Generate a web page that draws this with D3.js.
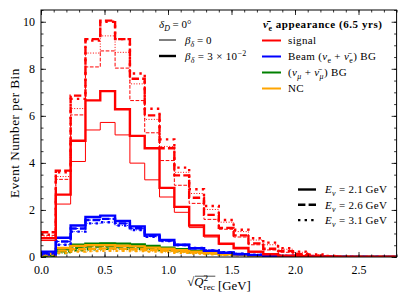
<!DOCTYPE html>
<html><head><meta charset="utf-8">
<script src="https://cdn.jsdelivr.net/npm/d3@7"></script>
<style>body{margin:0;background:#fff}svg{display:block}</style>
</head><body>
<svg id="c" width="407" height="305"></svg>
<script>
// ---------------- data ----------------
const xMax = 2.8;
const nBins = 24;                       // bins of width xMax/nBins in sqrt(Q2_rec)
const xTicks = [0.0, 0.5, 1.0, 1.5, 2.0, 2.5];
const yTicks = [0, 2, 4, 6, 8, 10];

// signal, E=2.1 / 2.6 / 3.1 GeV, beta=0 (thin) and beta=3e-2 (thick)
const sig21_b0 = [0.70,2.25,4.06,5.40,5.72,5.19,3.99,3.28,2.55,1.90,1.25,0.85,0.53,0.35,0.20,0.11,0.05,0.02,0.01,0,0,0,0,0];
const sig21_b3 = [0.80,2.65,4.94,6.66,7.05,6.28,5.15,4.62,2.94,2.13,1.34,0.91,0.57,0.38,0.23,0.12,0.06,0.03,0.01,0,0,0,0,0];
const sig26_b0 = [0.92,3.30,6.04,8.08,8.76,8.03,6.65,5.28,4.10,3.05,2.28,1.60,1.18,0.85,0.52,0.30,0.20,0.10,0.04,0.01,0,0,0,0];
const sig26_b3 = [1.05,3.67,6.86,9.26,10.05,9.26,7.58,6.02,4.62,3.47,2.52,1.79,1.24,0.92,0.58,0.35,0.25,0.12,0.05,0.02,0,0,0,0];
const sig31_b0 = [0.85,3.42,6.31,8.67,9.40,8.70,7.36,5.85,4.70,3.60,2.70,2.02,1.48,1.08,0.72,0.52,0.33,0.20,0.09,0.03,0.01,0,0,0];
const sig31_b3 = [0.95,3.60,6.72,9.20,10.00,9.26,7.80,6.30,5.00,3.80,2.88,2.17,1.57,1.16,0.80,0.61,0.37,0.23,0.11,0.04,0.01,0,0,0];

// beam (nu_e + nubar_e) background
const beam21 = [0.23,0.82,1.34,1.70,1.76,1.53,1.30,0.95,0.73,0.52,0.37,0.26,0.18,0.12,0.08,0.05,0.03,0.02,0.01,0,0,0,0,0];
const beam26 = [0.16,0.66,1.21,1.57,1.62,1.43,1.22,0.90,0.70,0.51,0.37,0.27,0.19,0.13,0.09,0.06,0.04,0.02,0.01,0,0,0,0,0];
const beam31 = [0.10,0.52,1.08,1.43,1.48,1.34,1.15,0.86,0.68,0.51,0.38,0.28,0.20,0.14,0.10,0.07,0.05,0.03,0.02,0.01,0,0,0,0];

// (nu_mu + nubar_mu) background
const numu21 = [0.06,0.33,0.52,0.57,0.58,0.57,0.53,0.47,0.40,0.33,0.26,0.20,0.15,0.11,0.08,0.05,0.03,0.02,0.01,0,0,0,0,0];
const numu26 = [0.04,0.24,0.39,0.44,0.45,0.44,0.42,0.38,0.33,0.28,0.23,0.18,0.14,0.10,0.07,0.05,0.03,0.02,0.01,0,0,0,0,0];
const numu31 = [0.03,0.17,0.29,0.33,0.35,0.35,0.34,0.31,0.28,0.24,0.20,0.16,0.12,0.09,0.07,0.05,0.03,0.02,0.01,0,0,0,0,0];

// NC background
const nc21 = [0.15,0.38,0.47,0.50,0.50,0.48,0.45,0.40,0.35,0.29,0.23,0.18,0.13,0.10,0.07,0.05,0.03,0.02,0.01,0,0,0,0,0];
const nc26 = [0.10,0.27,0.33,0.35,0.36,0.35,0.33,0.30,0.27,0.23,0.19,0.15,0.11,0.08,0.06,0.04,0.03,0.02,0.01,0,0,0,0,0];
const nc31 = [0.06,0.18,0.23,0.25,0.26,0.26,0.25,0.23,0.21,0.18,0.15,0.12,0.09,0.07,0.05,0.04,0.03,0.02,0.01,0,0,0,0,0];

// ---------------- chart ----------------
const FONT = "'Liberation Serif','Times New Roman',serif";
const W = 407, H = 305;
const m = {l: 41, r: 10.4, t: 10, b: 48};
const svg = d3.select('#c');
const x = d3.scaleLinear().domain([0, xMax]).range([m.l, W - m.r]);
const y = d3.scaleLinear().domain([0, 10.5]).range([H - m.b, m.t]);
const edges = d3.range(nBins + 1).map(i => i * xMax / nBins);

const C = {red: '#ff0000', blue: '#0000ff', green: '#008000', orange: '#ffa500'};
const THICK = 2.4, THIN = 1.0;
function dash(style, lw) {
  const k = lw > 1.5 ? 2 : lw;
  if (style === 'dashed') return `${3.7*k},${1.6*k}`;
  if (style === 'dotted') return lw > 1.5 ? `${lw},${3.3*k - lw}` : `${1*k},${1.65*k}`;
  return null;
}
const step = d3.line().x(d => x(d[0])).y(d => y(d[1])).curve(d3.curveStepAfter);

svg.append('defs').append('clipPath').attr('id', 'clip').append('rect')
  .attr('x', m.l).attr('y', m.t).attr('width', W - m.l - m.r).attr('height', H - m.t - m.b);

const plotG = svg.append('g').attr('clip-path', 'url(#clip)');
function histIn(vals, color, style, lw) {
  const pts = vals.map((v, i) => [edges[i], v]);
  pts.push([edges[vals.length], vals[vals.length - 1]]);
  plotG.append('path').attr('d', step(pts)).attr('fill', 'none')
    .attr('stroke', color).attr('stroke-width', lw)
    .attr('stroke-dasharray', dash(style, lw));
}
const sets = [
  [numu21, numu21, numu26, numu26, numu31, numu31, C.green],
  [nc21, nc21, nc26, nc26, nc31, nc31, C.orange],
  [beam21, beam21, beam26, beam26, beam31, beam31, C.blue],
  [sig21_b0, sig21_b3, sig26_b0, sig26_b3, sig31_b0, sig31_b3, C.red],
];
sets.forEach(s => {
  const col = s[6];
  histIn(s[1], col, 'solid', THICK);  histIn(s[0], col, 'solid', THIN);
  histIn(s[3], col, 'dashed', THICK); histIn(s[2], col, 'dashed', THIN);
  histIn(s[5], col, 'dotted', THICK); histIn(s[4], col, 'dotted', THIN);
});

// axes
const TS = 12;
const minorX = d3.range(0, xMax + 1e-9, 0.1);
const minorY = d3.range(0, 10.5 + 1e-9, 0.5);
function styleAxis(g) { g.select('.domain').remove(); g.selectAll('line').attr('stroke', '#000').attr('stroke-width', 0.8); g.selectAll('text').attr('font-family', FONT).attr('font-size', TS).attr('fill', '#000'); }
const yb = H - m.b, xr = W - m.r;
svg.append('g').attr('transform', `translate(0,${yb})`).call(d3.axisBottom(x).tickValues(minorX).tickSize(-2.5).tickFormat('')).call(styleAxis);
svg.append('g').attr('transform', `translate(0,${m.t})`).call(d3.axisTop(x).tickValues(minorX).tickSize(-2.5).tickFormat('')).call(styleAxis);
svg.append('g').attr('transform', `translate(${m.l},0)`).call(d3.axisLeft(y).tickValues(minorY).tickSize(-2.5).tickFormat('')).call(styleAxis);
svg.append('g').attr('transform', `translate(${xr},0)`).call(d3.axisRight(y).tickValues(minorY).tickSize(-2.5).tickFormat('')).call(styleAxis);
svg.append('g').attr('transform', `translate(0,${yb})`).call(d3.axisBottom(x).tickValues(xTicks).tickSize(-5).tickPadding(8.5).tickFormat(d3.format('.1f'))).call(styleAxis);
svg.append('g').attr('transform', `translate(0,${m.t})`).call(d3.axisTop(x).tickValues(xTicks).tickSize(-5).tickFormat('')).call(styleAxis);
svg.append('g').attr('transform', `translate(${m.l},0)`).call(d3.axisLeft(y).tickValues(yTicks).tickSize(-5).tickPadding(6).tickFormat(d3.format('d'))).call(styleAxis);
svg.append('g').attr('transform', `translate(${xr},0)`).call(d3.axisRight(y).tickValues(yTicks).tickSize(-5).tickFormat('')).call(styleAxis);
svg.append('rect').attr('x', m.l).attr('y', m.t).attr('width', xr - m.l).attr('height', yb - m.t)
  .attr('fill', 'none').attr('stroke', '#000').attr('stroke-width', 1);

// rich text helper
function rich(sel, px, py, parts, size, opts = {}) {
  const t = sel.append('text').attr('x', px).attr('y', py).attr('font-family', FONT)
    .attr('font-size', size).attr('fill', '#000')
    .attr('text-anchor', opts.anchor || 'start').attr('font-weight', opts.weight || 'normal');
  if (opts.ls) t.attr('letter-spacing', opts.ls);
  if (opts.rotate) t.attr('transform', `rotate(${opts.rotate},${px},${py})`);
  let shift = 0;
  parts.forEach(p => {
    const [str, kind] = typeof p === 'string' ? [p, ''] : p;
    let target = 0, fs = size, fst = 'normal';
    if (kind.includes('sub')) { target = size * 0.28; fs = size * 0.72; }
    if (kind.includes('sup')) { target = -size * 0.4; fs = size * 0.72; }
    if (kind.startsWith('i')) fst = 'italic';
    const ts = t.append('tspan').attr('dy', target - shift).attr('font-size', fs).attr('font-style', fst).text(str);
    if (kind.includes('back')) ts.attr('dx', -size * 0.36);
    shift = target;
  });
  return t;
}

// axis labels
rich(svg, 19, 133, ['Event Number per Bin'], 13.2, {anchor: 'middle', rotate: -90, ls: 0.5});
{
  const g = svg.append('g');
  const t = rich(g, 219, 286, [['\u221A', ''], ['Q', 'i'], ['2', 'sup'], ['rec', 'subback'], ['', ''], '  [GeV]'], 12.8, {anchor: 'middle'});
  const tspans = t.selectAll('tspan').nodes();
  const b0 = tspans[0].getBBox(), b3 = tspans[3].getBBox();
  g.append('line').attr('x1', b0.x + b0.width - 0.3).attr('x2', b3.x + b3.width + 0.5)
    .attr('y1', b0.y + 1.2).attr('y2', b0.y + 1.2).attr('stroke', '#000').attr('stroke-width', 0.7);
}

// legend 1: beta
const LS = 11;
rich(svg, 159, 28, [['\u03B4', 'i'], ['D', 'isub'], ' = 0\u00B0'], LS);
svg.append('line').attr('x1', 159).attr('x2', 176).attr('y1', 40).attr('y2', 40).attr('stroke', '#000').attr('stroke-width', THIN);
rich(svg, 185, 44, [['\u03B2', 'i'], ['\u03B4', 'isub'], ' = 0'], LS);
svg.append('line').attr('x1', 159).attr('x2', 176).attr('y1', 56).attr('y2', 56).attr('stroke', '#000').attr('stroke-width', THICK);
rich(svg, 185, 60, [['\u03B2', 'i'], ['\u03B4', 'isub'], ' = 3 \u00D7 10', ['\u22122', 'sup']], LS, {ls: 0.3});

// legend 2: channels
rich(svg, 263, 28, [['\u03BD\u0304', 'i'], ['e', 'sub'], ' appearance (6.5 yrs)'], LS, {weight: 'bold', ls: 0.55});
const chans = [
  [C.red, ['signal']],
  [C.blue, ['Beam (', ['\u03BD', 'i'], ['e', 'sub'], ' + ', ['\u03BD\u0304', 'i'], ['e', 'sub'], ') BG']],
  [C.green, ['(', ['\u03BD', 'i'], ['\u03BC', 'isub'], ' + ', ['\u03BD\u0304', 'i'], ['\u03BC', 'isub'], ') BG']],
  [C.orange, ['NC']],
];
chans.forEach((c, i) => {
  const yy = 40.5 + i * 16;
  svg.append('line').attr('x1', 262).attr('x2', 281).attr('y1', yy).attr('y2', yy).attr('stroke', c[0]).attr('stroke-width', 2);
  rich(svg, 288, yy + 3.8, c[1], LS, {ls: 0.35});
});

// legend 3: energies
const ens = [['solid', '2.1'], ['dashed', '2.6'], ['dotted', '3.1']];
ens.forEach((e, i) => {
  const yy = 189.5 + i * 15.3;
  svg.append('line').attr('x1', 298).attr('x2', 316).attr('y1', yy).attr('y2', yy).attr('stroke', '#000')
    .attr('stroke-width', THICK).attr('stroke-dasharray', dash(e[0], THICK));
  rich(svg, 325, yy + 3.8, [['E', 'i'], ['\u03BD', 'isub'], ' = ' + e[1] + '\u2009GeV'], LS, {ls: 0.3});
});
</script>
</body></html>
